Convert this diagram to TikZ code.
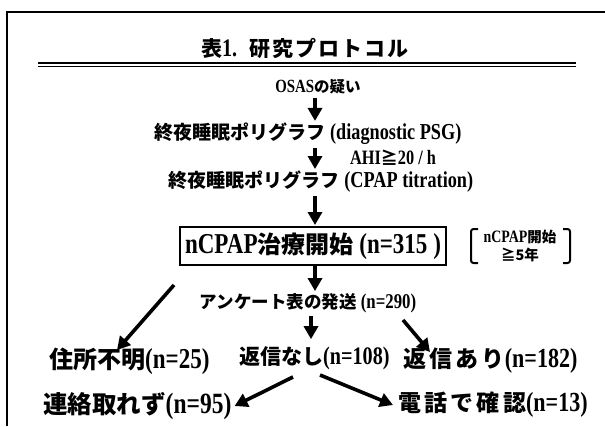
\documentclass[tikz,border=0pt]{standalone}
\usepackage{fontspec}
\setmainfont{Liberation Serif}[Scale=1.2, FakeStretch=0.8]
\newfontfamily\jp{Noto Sans CJK JP}
\usetikzlibrary{arrows.meta}
\newcommand\J[1]{{\jp\bfseries #1}}
\newcommand\JW[2]{{\jp\bfseries\addfontfeature{LetterSpace=#1}#2}}
\newcommand\setfs[1]{\fontsize{#1}{#1}\selectfont}
\begin{document}
\begin{tikzpicture}[x=1pt,y=-1pt,
  txt/.style={inner sep=1pt, font=\bfseries},
  arr/.style={line width=3.6pt, -{Triangle[width=14pt,length=13pt]}},
  frame/.style={line width=2pt}]
\useasboundingbox (0,0) rectangle (605,426);
\fill[white] (0,0) rectangle (605,426);
% border (top and left visible)
\draw[frame] (7,426) -- (7,12) -- (605,12);
% title
\node[txt, font=\bfseries\setfs{21}] (title) at (305,48) {\J{表}1.\hspace{12pt}\JW{10}{研究プロトコル}};
\draw[line width=2pt] (38,62.5) -- (576,62.5);
\draw[line width=0.9pt] (38,66.5) -- (576,66.5);
% column
\coordinate (col) at (315,0);
\coordinate (col2) at (311,0);
\node[txt, font=\bfseries\setfs{15.5}] (osas) at (318,87) {OSAS\J{の疑い}};
\node[txt, font=\bfseries\setfs{19}] (psg1) at (308,134) {\J{終夜睡眠ポリグラフ} (diagnostic PSG)};
\node[txt, font=\bfseries\setfs{17}] (ahi) at (393,158) {AHI\J{≧}20 / h};
\node[txt, font=\bfseries\setfs{19}] (psg2) at (321,182) {\J{終夜睡眠ポリグラフ} (CPAP titration)};
\node[draw, line width=2pt, inner xsep=5pt, minimum height=38pt, font=\bfseries\setfs{24}] (start) at (313,246) {nCPAP\J{治療開始} (n=315 )};
\node[txt, align=center, font=\bfseries\fontsize{14.5}{18}\selectfont] (brk) at (520,246) {nCPAP\J{開始}\\\J{≧5年}};
\draw[line width=2pt, rounded corners=2.5pt] (478,229) -- (471,229) -- (471,263) -- (478,263);
\draw[line width=2pt, rounded corners=2.5pt] (563,229) -- (570,229) -- (570,263) -- (563,263);
\node[txt, font=\bfseries\setfs{17.5}] (send) at (308,303) {\J{アンケート表の発送} (n=290)};
\node[txt, anchor=west, font=\bfseries\setfs{24}] (addr) at (48,361) {\J{住所不明}(n=25)};
\node[txt, anchor=west, font=\bfseries\setfs{21}] (norep) at (238,358) {\J{返信なし}(n=108)};
\node[txt, anchor=west, font=\bfseries\setfs{23}] (rep) at (402,361) {\JW{14}{返信あり}(n=182)};
\node[txt, anchor=west, font=\bfseries\setfs{24.5}] (lost) at (42,406) {\J{連絡取れず}(n=95)};
\node[txt, anchor=west, font=\bfseries\setfs{23}] (tel) at (397,405) {\JW{14}{電話で確認}(n=13)};
% connectors
\draw[arr, shorten <=2pt, shorten >=1pt] (osas.south -| col) -- (psg1.north -| col);
\draw[arr, shorten <=2pt, shorten >=1pt] (psg1.south -| col) -- (psg2.north -| col);
\draw[arr, shorten <=2pt, shorten >=1pt] (psg2.south -| col) -- (start.north -| col);
\draw[arr, shorten <=0pt, shorten >=1pt] (start.south -| col) -- (send.north -| col);
\draw[arr, shorten <=2pt, shorten >=6pt] (send.south -| col2) -- (norep.north -| col2);
\coordinate (dlt) at (174,285);
\coordinate (dlh) at (117,350);
\draw[arr] (dlt) -- (dlh);
\coordinate (drt) at (403,320);
\coordinate (drh) at (430,352);
\draw[arr] (drt) -- (drh);
\coordinate (blt) at (293,377);
\draw[arr] (blt) -- ([xshift=2pt]lost.east);
\coordinate (brt) at (320,375);
\draw[arr] (brt) -- ([xshift=-4pt]tel.west);
\end{tikzpicture}
\end{document}
